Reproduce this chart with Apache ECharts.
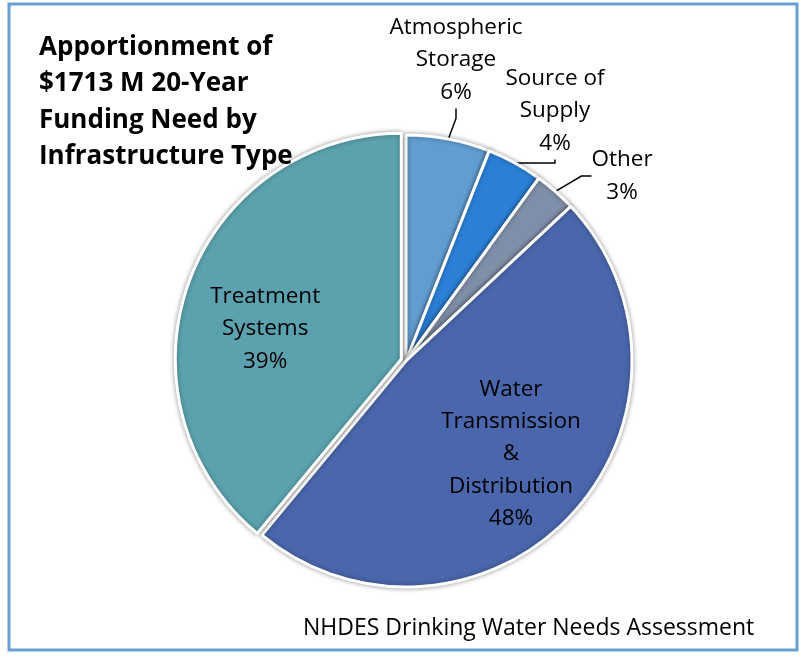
<!DOCTYPE html>
<html><head><meta charset="utf-8">
<script src="https://cdn.jsdelivr.net/npm/echarts@6/dist/echarts.min.js"></script>
<style>html,body{margin:0;padding:0;background:#f6f8fa;}#c{width:805px;height:656px;}</style>
</head><body><div id="c"></div>
<script>
const categories = ['Atmospheric\nStorage', 'Source of\nSupply', 'Other', 'Water\nTransmission\n&\nDistribution', 'Treatment\nSystems'];
const values = [6, 4, 3, 48, 39];
const colors = ['#629DD1', '#2B7FD6', '#7F8FA9', '#4A66AC', '#5BA2AE'];
const titleText = 'Apportionment of\n$1713 M 20-Year\nFunding Need by\nInfrastructure Type';
const footerText = 'NHDES Drinking Water Needs Assessment';

// label anchor positions (centre of label block); null = keep default inside spot
const labelPos = [[456, 60], [555, 111], [622, 176], [511, 454], null];
const outside = [true, true, true, false, false];

const FONT = 'Open Sans';
const chart = echarts.init(document.getElementById('c'), null, {renderer: 'canvas'});
const data = categories.map((n, i) => ({
  name: n, value: values[i],
  selected: i === 4,
  itemStyle: {color: colors[i]},
  label: i === 4
    ? {position: 'inside', padding: [0, 54, 0, 0],
       formatter: p => '{s| }\n{t|' + p.name.split('\n').join('}\n{t|') + '}\n{t|' + p.value + '%}',
       rich: {s: {fontSize: 4, lineHeight: 18, height: 18}, t: {fontFamily: FONT, fontSize: 22.5, lineHeight: 32.3, color: '#000'}}}
    : {position: outside[i] ? 'outside' : 'inside'},
  labelLine: {show: outside[i]}
}));
chart.setOption({
  backgroundColor: '#ffffff',
  title: [
    {text: titleText, left: 34, top: 24, textStyle: {fontFamily: FONT, fontWeight: 'bold', fontSize: 26, lineHeight: 36.5, color: '#000'}},
    {text: footerText, left: 298, top: 612, textStyle: {fontFamily: FONT, fontWeight: 'normal', fontSize: 23, color: '#000'}}
  ],
  graphic: [{type: 'rect', shape: {x: 9, y: 4, width: 788, height: 646}, style: {fill: 'none', stroke: '#6A9FD4', lineWidth: 3}, silent: true}],
  series: [{
    type: 'pie',
    center: [406, 361],
    radius: [0, 226],
    startAngle: 90,
    clockwise: true,
    selectedMode: 'single',
    selectedOffset: 5,
    animation: false,
    avoidLabelOverlap: false,
    itemStyle: {borderColor: '#ffffff', borderWidth: 3, shadowBlur: 5, shadowColor: 'rgba(0,0,0,0.35)'},
    label: {
      formatter: p => p.name + '\n' + p.value + '%',
      fontFamily: FONT, fontSize: 22.5, lineHeight: 32.3, color: '#000', align: 'center'
    },
    labelLine: {lineStyle: {color: '#000', width: 1.5}, length: 10, length2: 10},
    labelLayout: p => {
      const pos = labelPos[p.dataIndex];
      if (!pos) return {};
      return {x: pos[0], y: pos[1], align: 'center', verticalAlign: 'middle'};
    },
    data: data
  }]
});
</script></body></html>
